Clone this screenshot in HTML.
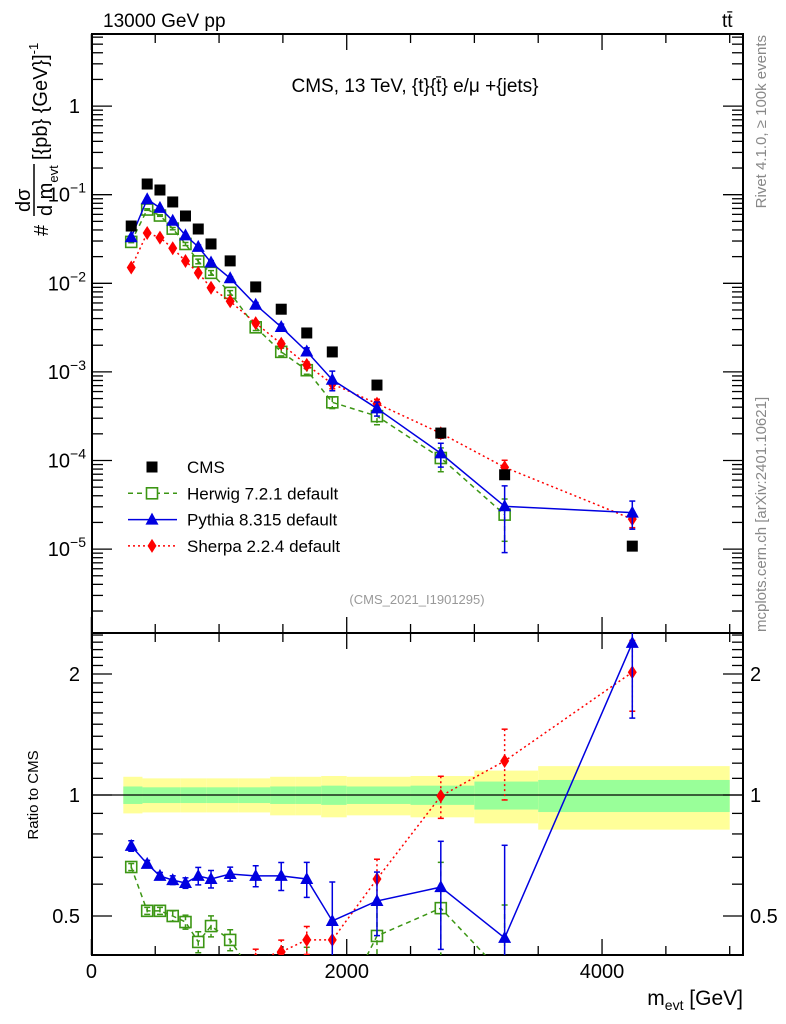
<!DOCTYPE html>
<html><head><meta charset="utf-8"><style>
html,body{margin:0;padding:0;background:#fff;overflow:hidden;width:786px;height:1024px}
svg{display:block;font-family:"Liberation Sans",sans-serif}
</style></head><body>
<svg id="chart" width="786" height="1024" viewBox="0 0 786 1024" xmlns="http://www.w3.org/2000/svg">
<defs id="defs"></defs>
<g id="bands"></g>
<g id="axes"></g>
<g id="series"></g>
<text x="103" y="27" font-size="19">13000 GeV pp</text>
<text x="722" y="27" font-size="19">tt̄</text>
<text x="415" y="92" font-size="19" text-anchor="middle">CMS, 13 TeV, {t}{t̄} e/μ +{jets}</text>
<text x="417" y="604" font-size="13" fill="#999" text-anchor="middle">(CMS_2021_I1901295)</text>
<g transform="rotate(-90)" fill="#888" font-size="15">
<text x="-35" y="766" text-anchor="end">Rivet 4.1.0, ≥ 100k events</text>
<text x="-632" y="766" text-anchor="start">mcplots.cern.ch [arXiv:2401.10621]</text>
</g>
<g transform="rotate(-90)" font-size="20">
<text x="-236" y="48">#</text>
<text x="-212" y="30">dσ</text>
<line x1="-216" x2="-164" y1="34" y2="34" stroke="#000" stroke-width="1.5"/>
<text x="-216" y="52">d m<tspan font-size="13" dy="6">evt</tspan></text>
<text x="-160" y="47">[{pb} {GeV}]<tspan font-size="13" dy="-9">-1</tspan></text>
</g>
<text transform="translate(38,795) rotate(-90)" font-size="15" text-anchor="middle">Ratio to CMS</text>
<text x="743" y="1005" font-size="21" text-anchor="end">m<tspan font-size="14" dy="5">evt</tspan><tspan dy="-5"> [GeV]</tspan></text>
<g id="legend"></g>
</svg>
<script>
const xCenters=[312,437,537,637,737,837,937,1087,1287,1487,1687,1887,2237,2737,3237,4237];
const cmsValues=[0.0443,0.132,0.113,0.0828,0.0575,0.041,0.0278,0.0179,0.0091,0.0051,0.00275,0.00168,0.00071,0.000204,0.000069,0.0000108];
const pythiaRatio=[0.747,0.674,0.629,0.614,0.604,0.629,0.618,0.636,0.629,0.629,0.618,0.486,0.545,0.59,0.441,2.39];
const pythiaErr=[0.03,0.02,0.02,0.025,0.03,0.05,0.05,0.04,0.06,0.08,0.1,0.25,0.18,0.3,0.7,0.35];
const herwigRatio=[0.662,0.515,0.515,0.5,0.483,0.431,0.472,0.436,0.35,0.33,0.38,0.27,0.446,0.523,0.355,null];
const herwigErr=[0.02,0.02,0.02,0.03,0.04,0.06,0.06,0.06,0.08,0.1,0.1,0.15,0.2,0.3,0.5,0];
const sherpaRatio=[0.34,0.28,0.29,0.30,0.31,0.32,0.32,0.35,0.39,0.407,0.436,0.436,0.618,0.994,1.215,2.02];
const sherpaErr=[0.04,0.03,0.03,0.03,0.04,0.05,0.05,0.05,0.06,0.07,0.08,0.12,0.12,0.12,0.2,0.2];
const bandEdges=[250,400,700,900,1150,1400,1600,1800,2000,2500,3000,3500,5000];
const greenUp=[1.05,1.045,1.045,1.045,1.045,1.05,1.05,1.055,1.05,1.055,1.08,1.09];
const greenDn=[0.95,0.955,0.955,0.955,0.955,0.95,0.95,0.945,0.95,0.945,0.92,0.907];
const yellowUp=[1.11,1.10,1.10,1.10,1.10,1.11,1.11,1.115,1.11,1.115,1.15,1.18];
const yellowDn=[0.90,0.905,0.905,0.905,0.905,0.89,0.89,0.88,0.89,0.88,0.85,0.82];
const xTicks=[0,2000,4000];
const mainDecades=[-6,-5,-4,-3,-2,-1,0];
const ratioMajor=[0.5,1,2];

const NS='http://www.w3.org/2000/svg';
const L=92,R=743,T=34,MB=633,RB=955;
const X=v=>91.4+v*0.12766;
const YM=v=>106.1-88.6*Math.log10(v);
const YR=r=>795-121*Math.log2(r);
function mk(tag,attrs,parent){const e=document.createElementNS(NS,tag);for(const k in attrs)e.setAttribute(k,attrs[k]);parent.appendChild(e);return e;}
const bands=document.getElementById('bands'),axes=document.getElementById('axes'),series=document.getElementById('series'),legend=document.getElementById('legend');

for(let i=0;i<bandEdges.length-1;i++){
  const x1=X(bandEdges[i]),x2=X(bandEdges[i+1]);
  const y=mk('rect',{x:x1,y:YR(yellowUp[i]),width:x2-x1,height:YR(yellowDn[i])-YR(yellowUp[i]),fill:'#ffff99'},bands);
  
  
  const g=mk('rect',{x:x1,y:YR(greenUp[i]),width:x2-x1,height:YR(greenDn[i])-YR(greenUp[i]),fill:'#99ff99'},bands);
  
  
}
const ref=mk('line',{x1:L,x2:R,y1:YR(1),y2:YR(1),stroke:'#000','stroke-width':1.3},bands);



const f1=mk('rect',{x:L,y:T,width:R-L,height:MB-T,fill:'none',stroke:'#000','stroke-width':2},axes);


const f2=mk('rect',{x:L,y:MB,width:R-L,height:RB-MB,fill:'none',stroke:'#000','stroke-width':2},axes);



for(let v=0;v<=5000;v+=500){
  const len=v%2000===0?16:9,x=X(v);
  for(const [y0,dir] of [[T,1],[MB,-1],[MB,1],[RB,-1]]){
    mk('line',{x1:x,x2:x,y1:y0,y2:y0+dir*len,stroke:'#000','stroke-width':1.3},axes);
  }
}
xTicks.forEach(v=>{
  const t=mk('text',{x:X(v),y:978,'font-size':20,'text-anchor':'middle'},axes);
  t.textContent=String(v);
  
  
});

mainDecades.forEach(d=>{
  for(let m=1;m<10;m++){
    const v=m*Math.pow(10,d),y=YM(v);
    if(y<T||y>MB)continue;
    const len=m===1?20:11;
    mk('line',{x1:L,x2:L+len,y1:y,y2:y,stroke:'#000','stroke-width':1.3},axes);
    mk('line',{x1:R,x2:R-len,y1:y,y2:y,stroke:'#000','stroke-width':1.3},axes);
  }
  const y=YM(Math.pow(10,d));
  if(y<T||y>MB)return;
  const t=mk('text',{x:80,y:y+7,'font-size':20,'text-anchor':'end'},axes);
  
  
  if(d===0)t.textContent='1';
  else{t.textContent='10';const s=mk('tspan',{'font-size':14,dy:-9},t);s.textContent='−'+(-d);t.setAttribute('x',86);}
});

for(let r=0.3;r<=2.6;r+=0.1){
  const rr=Math.round(r*10)/10,y=YR(rr);
  if(y<MB||y>RB)continue;
  const len=ratioMajor.includes(rr)?20:11;
  mk('line',{x1:L,x2:L+len,y1:y,y2:y,stroke:'#000','stroke-width':1.3},axes);
  mk('line',{x1:R,x2:R-len,y1:y,y2:y,stroke:'#000','stroke-width':1.3},axes);
}
ratioMajor.forEach(r=>{
  const y=YR(r)+7;
  const t=mk('text',{x:80,y:y,'font-size':20,'text-anchor':'end'},axes);
  t.textContent=String(r);
  
  
  const t2=mk('text',{x:750,y:y,'font-size':20},axes);
  t2.textContent=String(r);
  
  
});

const defs=document.getElementById('defs');
const c1=mk('clipPath',{id:'cm'},defs);mk('rect',{x:L,y:T,width:R-L,height:MB-T},c1);
const c2=mk('clipPath',{id:'cr'},defs);mk('rect',{x:L,y:MB,width:R-L,height:RB-MB},c2);
const gMain=mk('g',{'clip-path':'url(#cm)'},series);
const gRat=mk('g',{'clip-path':'url(#cr)'},series);

function marker(g,kind,x,y,color){
  let e;
  if(kind==='sq')e=mk('rect',{x:x-5.5,y:y-5.5,width:11,height:11,fill:'#000'},g);
  else if(kind==='osq')e=mk('rect',{x:x-5.5,y:y-5.5,width:11,height:11,fill:'none',stroke:color,'stroke-width':1.6},g);
  else if(kind==='tri')e=mk('polygon',{points:`${x},${y-7} ${x-6.5},${y+5} ${x+6.5},${y+5}`,fill:color},g);
  else e=mk('polygon',{points:`${x},${y-7} ${x-4.5},${y} ${x},${y+7} ${x+4.5},${y}`,fill:color},g);
  return e;
}
function drawSeries(name,ratio,err,color,dash,kind){
  [[gMain,(i,r)=>YM(r*cmsValues[i])],[gRat,(i,r)=>YR(r)]].forEach(([g,Y],panel)=>{
    const pts=[];
    xCenters.forEach((xv,i)=>{if(ratio[i]!=null)pts.push([X(xv),Y(i,ratio[i])]);});
    const pl=mk('polyline',{points:pts.map(p=>p.join(',')).join(' '),fill:'none',stroke:color,'stroke-width':1.5,'stroke-dasharray':dash},g);
    
    
    xCenters.forEach((xv,i)=>{
      const r=ratio[i];if(r==null)return;
      const x=X(xv),y1=Y(i,r*(1+err[i])),y2=Y(i,Math.max(r*(1-err[i]),r*0.01));
      mk('line',{x1:x,x2:x,y1:y1,y2:y2,stroke:color,'stroke-width':1.5,'stroke-dasharray':dash},g);
      mk('line',{x1:x-3,x2:x+3,y1:y1,y2:y1,stroke:color,'stroke-width':1.5},g);
      mk('line',{x1:x-3,x2:x+3,y1:y2,y2:y2,stroke:color,'stroke-width':1.5},g);
      const m=marker(g,kind,x,Y(i,r),color);
      
      
    });
  });
}
drawSeries('herwig',herwigRatio,herwigErr,'#3c9614','5,4','osq');
drawSeries('sherpa',sherpaRatio,sherpaErr,'#ff0000','2,3','dia');
drawSeries('pythia',pythiaRatio,pythiaErr,'#0000e0','none','tri');
xCenters.forEach((xv,i)=>{
  const m=marker(gMain,'sq',X(xv),YM(cmsValues[i]),'#000');
  
  
});

const leg=[['CMS',null,'none','sq','#000'],['Herwig 7.2.1 default','#3c9614','5,4','osq','#3c9614'],['Pythia 8.315 default','#0000e0','none','tri','#0000e0'],['Sherpa 2.2.4 default','#ff0000','2,3','dia','#ff0000']];
leg.forEach((e,i)=>{
  const y=467+i*26.3;
  const g=mk('g',{},legend);
  
  
  if(e[1])mk('line',{x1:128,x2:177,y1:y,y2:y,stroke:e[1],'stroke-width':1.5,'stroke-dasharray':e[2]},g);
  if(e[3]==='osq')mk('rect',{x:146.5,y:y-5.5,width:11,height:11,fill:'#fff'},g);
  marker(g,e[3],152,y,e[4]);
  const t=mk('text',{x:187,y:y+6,'font-size':17},g);
  t.textContent=e[0];
});
</script>
</body></html>
